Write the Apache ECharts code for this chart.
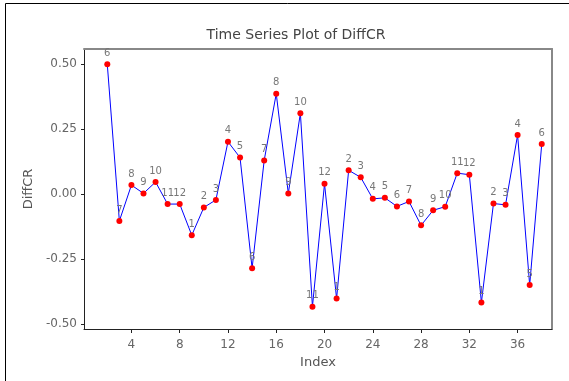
<!DOCTYPE html>
<html>
<head>
<meta charset="utf-8">
<script src="https://cdn.jsdelivr.net/npm/echarts@6/dist/echarts.min.js"></script>
<style>
  html, body { margin: 0; padding: 0; background: #fff; }
  #chart { width: 569px; height: 381px; }
</style>
</head>
<body>
<div id="chart"></div>
<script>
// index of each observation
var indexVals = [2, 3, 4, 5, 6, 7, 8, 9, 10, 11, 12, 13, 14, 15, 16, 17, 18, 19, 20,
                 21, 22, 23, 24, 25, 26, 27, 28, 29, 30, 31, 32, 33, 34, 35, 36, 37, 38];
// DiffCR values
var diffCR = [0.500, -0.103, 0.035, 0.003, 0.047, -0.038, -0.038, -0.158, -0.051, -0.022,
              0.202, 0.141, -0.285, 0.130, 0.387, 0.003, 0.312, -0.433, 0.040, -0.402,
              0.092, 0.065, -0.018, -0.014, -0.047, -0.028, -0.120, -0.062, -0.048, 0.081,
              0.075, -0.417, -0.036, -0.041, 0.228, -0.350, 0.193];
// month label drawn over each point
var monthLabels = ['6', '7', '8', '9', '10', '11', '12', '1', '2', '3', '4', '5', '6', '7', '8',
                   '9', '10', '11', '12', '1', '2', '3', '4', '5', '6', '7', '8', '9', '10', '11',
                   '12', '1', '2', '3', '4', '5', '6'];
var xTicks = [4, 8, 12, 16, 20, 24, 28, 32, 36];
var yTicks = [-0.5, -0.25, 0, 0.25, 0.5];

var FONT = 'DejaVu Sans';
var chart = echarts.init(document.getElementById('chart'));

var points = indexVals.map(function (x, i) { return [x, diffCR[i], monthLabels[i]]; });

chart.setOption({
    animation: false,
    textStyle: { fontFamily: FONT },
    title: {
        text: 'Time Series Plot of DiffCR',
        left: 291,
        top: 23,
        textAlign: 'center',
        textStyle: { fontFamily: FONT, fontSize: 14, fontWeight: 'normal', color: '#444' }
    },
    grid: { left: 84, top: 49, right: 17, bottom: 52 },
    graphic: [{
        type: 'rect',
        shape: { x: 5.5, y: 3.5, width: 600, height: 400 },
        style: { fill: 'none', stroke: '#000', lineWidth: 1 },
        silent: true
    }],
    xAxis: [{
        type: 'value',
        min: 0.07,
        max: 38.85,
        name: 'Index',
        nameLocation: 'middle',
        nameGap: 24,
        nameTextStyle: { fontFamily: FONT, fontSize: 13, color: '#555' },
        axisLine: { onZero: false, lineStyle: { color: '#222', width: 1 } },
        axisTick: { customValues: xTicks, length: 4, lineStyle: { color: '#222' } },
        axisLabel: { customValues: xTicks, margin: 10, fontSize: 12, color: '#666', fontFamily: FONT },
        splitLine: { show: false }
    }, {
        type: 'value',
        position: 'top',
        min: 0.07,
        max: 38.85,
        axisLine: { show: true, onZero: false, lineStyle: { color: '#888', width: 2 } },
        axisTick: { show: false },
        axisLabel: { show: false },
        splitLine: { show: false }
    }],
    yAxis: [{
        type: 'value',
        min: -0.519,
        max: 0.559,
        name: 'DiffCR',
        nameLocation: 'middle',
        nameGap: 45,
        nameTextStyle: { fontFamily: FONT, fontSize: 13, color: '#555' },
        axisLine: { show: true, onZero: false, lineStyle: { color: '#222', width: 1 } },
        axisTick: { show: true, customValues: yTicks, length: 3, lineStyle: { color: '#222' } },
        axisLabel: {
            customValues: yTicks, margin: 7, fontSize: 12, color: '#666', fontFamily: FONT,
            formatter: function (v) { return v.toFixed(2); }
        },
        splitLine: { show: false }
    }, {
        type: 'value',
        position: 'right',
        min: -0.519,
        max: 0.559,
        axisLine: { show: true, onZero: false, lineStyle: { color: '#888', width: 2 } },
        axisTick: { show: false },
        axisLabel: { show: false },
        splitLine: { show: false }
    }],
    series: [{
        type: 'line',
        data: points,
        lineStyle: { color: '#0000ff', width: 1 },
        itemStyle: { color: '#ff0000' },
        symbol: 'circle',
        symbolSize: 6,
        label: {
            show: true,
            position: 'top',
            distance: 3,
            fontSize: 10,
            color: '#777',
            fontFamily: FONT,
            formatter: function (p) { return p.data[2]; }
        }
    }]
});
</script>
</body>
</html>
